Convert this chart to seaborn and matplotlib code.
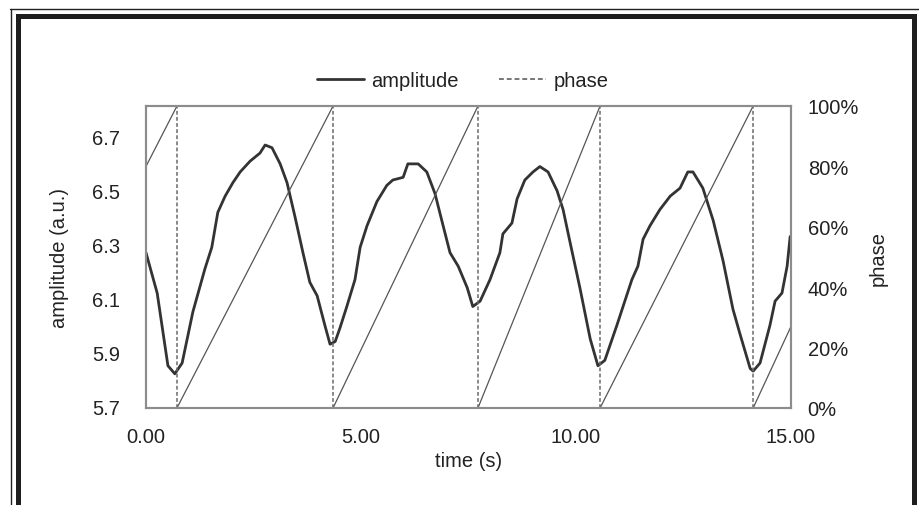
import numpy as np
import pandas as pd
import matplotlib
matplotlib.use('Agg')
import matplotlib.pyplot as plt
from matplotlib.lines import Line2D
from matplotlib.patches import Rectangle
from matplotlib.ticker import PercentFormatter
import seaborn as sns

# amplitude trace (time in s, amplitude in a.u.)
amp_time = [0.00, 0.26, 0.51, 0.67, 0.84, 1.09, 1.37, 1.53, 1.67, 1.84, 2.02, 2.19,
            2.42, 2.65, 2.77, 2.93, 3.12, 3.28, 3.47, 3.65, 3.81, 3.98, 4.16, 4.28,
            4.40, 4.51, 4.67, 4.86, 4.98, 5.14, 5.37, 5.60, 5.74, 5.98, 6.09, 6.33,
            6.53, 6.72, 6.91, 7.07, 7.26, 7.47, 7.60, 7.77, 8.00, 8.23, 8.30, 8.51,
            8.63, 8.81, 9.00, 9.16, 9.35, 9.56, 9.70, 9.86, 10.09, 10.33, 10.51,
            10.67, 10.95, 11.30, 11.44, 11.56, 11.72, 11.95, 12.19, 12.42, 12.60,
            12.72, 12.95, 13.19, 13.42, 13.65, 13.81, 14.05, 14.12, 14.28, 14.51,
            14.63, 14.79, 14.91, 14.98]
amp_value = [6.27, 6.12, 5.85, 5.82, 5.86, 6.05, 6.21, 6.29, 6.42, 6.48, 6.53, 6.57,
             6.61, 6.64, 6.67, 6.66, 6.60, 6.53, 6.40, 6.27, 6.16, 6.11, 6.00, 5.93,
             5.94, 5.99, 6.07, 6.17, 6.29, 6.37, 6.46, 6.52, 6.54, 6.55, 6.60, 6.60,
             6.57, 6.49, 6.37, 6.27, 6.22, 6.14, 6.07, 6.09, 6.17, 6.27, 6.34, 6.38,
             6.47, 6.54, 6.57, 6.59, 6.57, 6.50, 6.43, 6.31, 6.14, 5.95, 5.85,
             5.87, 6.00, 6.17, 6.22, 6.32, 6.37, 6.43, 6.48, 6.51, 6.57,
             6.57, 6.51, 6.39, 6.24, 6.06, 5.97, 5.84, 5.83, 5.86, 6.00,
             6.09, 6.12, 6.22, 6.33]

# phase resets (s) and phase at both ends of the record
reset_times = [0.72, 4.35, 7.72, 10.56, 14.12]
phase_start = 0.80
phase_end = 0.27
t_min, t_max = 0.0, 15.0

amp = pd.DataFrame({'time': amp_time, 'amplitude': amp_value})

# one row pair per ramp of the sawtooth
rows = [(0, t_min, phase_start), (0, reset_times[0], 1.0)]
for i, r in enumerate(reset_times):
    nxt = reset_times[i + 1] if i + 1 < len(reset_times) else t_max
    top = 1.0 if i + 1 < len(reset_times) else phase_end
    rows += [(i + 1, r, 0.0), (i + 1, nxt, top)]
phase = pd.DataFrame(rows, columns=['cycle', 'time', 'phase'])

sns.set_theme(style='white')
plt.rcParams['font.family'] = ['Liberation Sans', 'DejaVu Sans']
txt = '#222222'
fs = 14.5

fig = plt.figure(figsize=(9.2, 5.06), dpi=100)
fig.patch.set_facecolor('white')
ax = fig.add_axes([146 / 920, 1 - 409 / 506, 645 / 920, 302 / 506])
ax2 = ax.twinx()

sns.lineplot(data=amp, x='time', y='amplitude', ax=ax, color='#333333',
             linewidth=2.0, zorder=3, solid_joinstyle='round')
sns.lineplot(data=phase, x='time', y='phase', units='cycle', estimator=None,
             ax=ax2, color='#555555', linewidth=0.9)
ax2.vlines(reset_times, 0, 1, colors='#6a6a6a', linestyles=(0, (2.5, 1.5)), linewidth=1.1)

ax.set_xlim(t_min, t_max)
ax.set_ylim(5.693, 6.815)
ax.set_yticks([5.7, 5.9, 6.1, 6.3, 6.5, 6.7])
ax.set_yticklabels(['5.7', '5.9', '6.1', '6.3', '6.5', '6.7'])
ax.set_xticks([0, 5, 10, 15])
ax.set_xticklabels(['0.00', '5.00', '10.00', '15.00'])
ax2.set_ylim(0, 1)
ax2.set_yticks([0, 0.2, 0.4, 0.6, 0.8, 1.0])
ax2.yaxis.set_major_formatter(PercentFormatter(1.0, decimals=0))

ax.set_xlabel('time (s)', fontsize=fs, color=txt, labelpad=3)
ax.set_ylabel('amplitude (a.u.)', fontsize=fs, color=txt, labelpad=17)
ax2.set_ylabel('phase', fontsize=fs, color=txt, labelpad=7)

ax.tick_params(axis='both', length=0, labelsize=fs, labelcolor=txt)
ax.tick_params(axis='y', pad=18.5)
ax.tick_params(axis='x', pad=14)
ax2.tick_params(axis='y', length=0, labelsize=fs, labelcolor=txt, pad=12)

for a in (ax, ax2):
    for s in a.spines.values():
        s.set_color('#8c8c8c')
        s.set_linewidth(1.5)

handles = [Line2D([], [], color='#333333', linewidth=2.0),
           Line2D([], [], color='#777777', linewidth=1.4, linestyle=(0, (2.5, 1.5)))]
fig.legend(handles, ['amplitude', 'phase'], loc='center', bbox_to_anchor=(463 / 920, 1 - 82 / 506),
           ncol=2, frameon=False, fontsize=fs, handlelength=2.3, handletextpad=0.4,
           columnspacing=2.0, labelcolor=txt)

# scanned page frame: thin outer rule and thick inner border
H, W = 506, 920
fig.add_artist(Line2D([10 / W, 1], [1 - 10 / H] * 2, transform=fig.transFigure,
                      color='#222222', linewidth=1.0))
fig.add_artist(Line2D([11 / W] * 2, [0, 1 - 10 / H], transform=fig.transFigure,
                      color='#222222', linewidth=1.0))
fig.add_artist(Rectangle((17.5 / W, -0.05), (914.5 - 17.5) / W, 1.05 - 16.5 / H,
                         transform=fig.transFigure, fill=False, edgecolor='#1e1e1e',
                         linewidth=3.6))

fig.savefig('out.png', dpi=100, facecolor='white')
